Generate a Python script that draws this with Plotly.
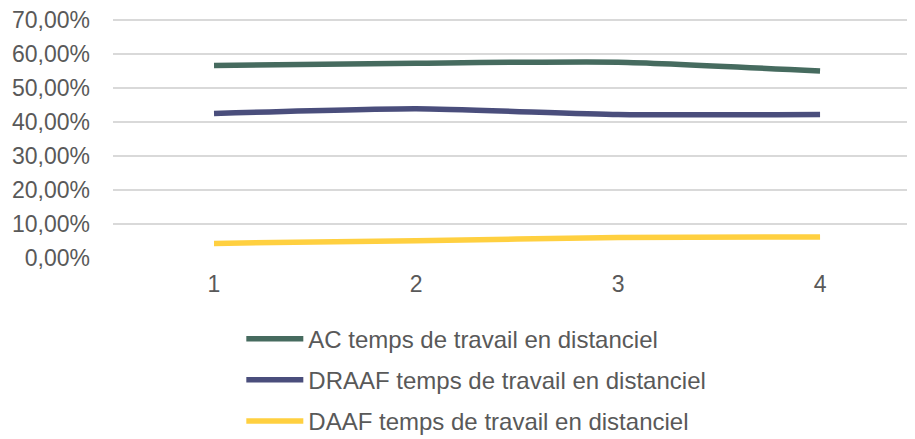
import plotly.graph_objects as go

categories = [1, 2, 3, 4]
ac_values = [0.566, 0.573, 0.576, 0.550]
draaf_values = [0.425, 0.439, 0.422, 0.422]
daaf_values = [0.043, 0.051, 0.060, 0.062]
series_names = [
    "AC temps de travail en distanciel",
    "DRAAF temps de travail en distanciel",
    "DAAF temps de travail en distanciel",
]
colors = ["#466B5F", "#4A4E7C", "#FFD040"]
y_tickvals = [0, 0.1, 0.2, 0.3, 0.4, 0.5, 0.6, 0.7]
y_ticktext = ["0,00%", "10,00%", "20,00%", "30,00%", "40,00%", "50,00%", "60,00%", "70,00%"]

FONT = "Liberation Sans, Arial, sans-serif"
fig = go.Figure()
for i, (name, vals) in enumerate(zip(series_names, [ac_values, draaf_values, daaf_values])):
    fig.add_trace(go.Scatter(
        x=categories, y=vals, name=name, mode="lines",
        line=dict(color=colors[i], width=5.5, shape="spline", smoothing=0.6),
        legendgroup=str(i),
    ))

# page body has an 8px default margin; figure sized to fit the remaining viewport
fig.update_layout(
    width=907, height=431,
    margin=dict(l=105, r=0, t=11, b=181, autoexpand=False),
    paper_bgcolor="white", plot_bgcolor="white",
    font=dict(family=FONT, size=23, color="#595959"),
    showlegend=True,
    legend=dict(
        orientation="v",
        x=0.160, y=-0.245, xanchor="left", yanchor="top",
        font=dict(family=FONT, size=24, color="#595959"),
        itemwidth=57, tracegroupgap=7, traceorder="grouped",
        bgcolor="rgba(0,0,0,0)",
    ),
    xaxis=dict(
        range=[0.5, 4.47], tickvals=categories, ticktext=[str(c) for c in categories],
        showgrid=False, zeroline=False, showline=False, ticks="",
        ticklabelstandoff=10,
        tickfont=dict(family=FONT, size=23, color="#595959"),
    ),
    yaxis=dict(
        range=[0, 0.703], tickvals=y_tickvals, ticktext=y_ticktext,
        showgrid=True, gridcolor="#D9D9D9", gridwidth=1.5,
        zeroline=False, showline=False, ticks="",
        ticklabelstandoff=22, ticklabeloverflow="allow",
        tickfont=dict(family=FONT, size=23, color="#595959"),
    ),
)
fig.write_html("out.html")
